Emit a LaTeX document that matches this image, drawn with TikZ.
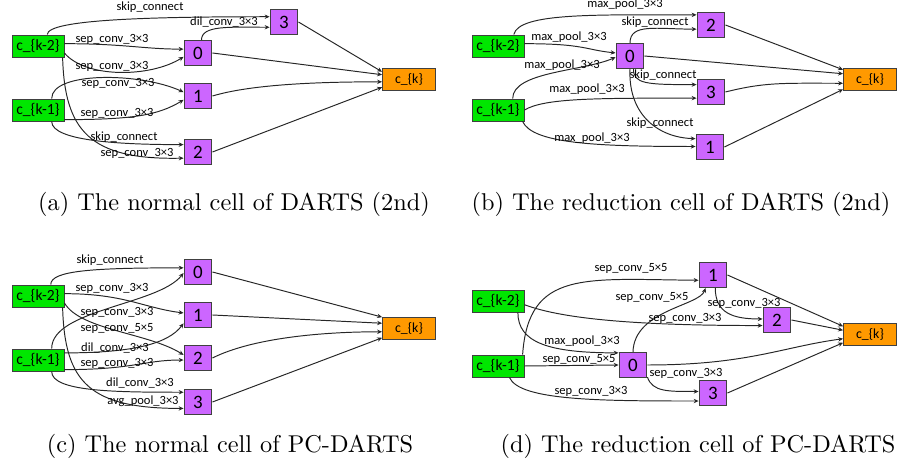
\documentclass[tikz,border=0pt]{standalone}
\usepackage{fontspec}
\newfontfamily\pptfont{Carlito}
\usetikzlibrary{arrows.meta}

\begin{document}
\begin{tikzpicture}[x=0.4115pt,y=-0.4115pt,
	every node/.style={font=\pptfont},
	inbox/.style={draw=cborder,line width=0.4pt,fill=cinput,minimum width=21.4pt,minimum height=9.05pt,inner sep=0pt,font=\pptfont\fontsize{6.4}{7}\selectfont},
	opbox/.style={draw=cborder,line width=0.4pt,fill=cop,minimum width=11.5pt,minimum height=10.3pt,inner sep=0pt,font=\pptfont\fontsize{7.8}{8}\selectfont},
	outbox/.style={draw=cborder,line width=0.4pt,fill=coutput,minimum width=21.8pt,minimum height=9.05pt,inner sep=0pt,font=\pptfont\fontsize{5.7}{6}\selectfont},
	lbl/.style={inner sep=0pt,font=\pptfont\fontsize{5.15}{6}\selectfont},
	arr/.style={draw=black!85,line width=0.4pt,-{Stealth[length=2pt,width=1.8pt]}},
	subcap/.style={inner sep=0pt,font=\rmfamily\fontsize{10}{12}\selectfont}]
\definecolor{cinput}{RGB}{0,230,0}      %green
\definecolor{cop}{RGB}{204,102,255}     %purple
\definecolor{coutput}{RGB}{255,153,0}   %orange
\definecolor{cborder}{RGB}{64,64,64}    %dark gray
\useasboundingbox (0,0) rectangle (906,467);

% (a) normal cell, DARTS (2nd)
\node[inbox] (a-km2) at (38,46) {c\_\{k-2\}};
\node[inbox] (a-km1) at (38,110) {c\_\{k-1\}};
\node[opbox] (a-0) at (198,53) {0};
\node[opbox] (a-1) at (198,96) {1};
\node[opbox] (a-2) at (198,152) {2};
\node[opbox] (a-3) at (284,22) {3};
\node[outbox] (a-k) at (409,79) {c\_\{k\}};
\draw[arr] (a-km2.51) .. controls +(0,-15) and +(-120,0) .. (a-3.160) node[lbl] at (150,7) {skip\_connect};
\draw[arr] (a-0.75) .. controls +(0,-15) and +(-40,0) .. (a-3.200) node[lbl] at (224,22) {dil\_conv\_3×3};
\draw[arr] (a-km2.5) .. controls +(60,0) and +(-40,0) .. (a-0.165) node[lbl] at (112,39) {sep\_conv\_3×3};
\draw[arr] (a-km2.345) .. controls +(21,25) and +(-34,21) .. (a-0.195) node[lbl] at (112,66) {sep\_conv\_3×3};
\draw[arr] (a-km1.40) .. controls +(0,-27) and +(-44,-20) .. (a-1.165) node[lbl] at (118,83) {sep\_conv\_3×3};
\draw[arr] (a-km1.340) .. controls +(70,0) and +(-25,15) .. (a-1.195) node[lbl] at (117,113) {sep\_conv\_3×3};
\draw[arr] (a-km1.320) .. controls +(0,20) and +(-60,0) .. (a-2.153) node[lbl] at (124,137) {skip\_connect};
\draw[arr] (a-km2.335) .. controls +(2,73) and +(-94,2) .. (a-2.203) node[lbl] at (137,153) {sep\_conv\_3×3};
\draw[arr] (a-3.east) -- (a-k.165);
\draw[arr] (a-0.east) -- (a-k.171);
\draw[arr] (a-1.east) .. controls +(40,-12) and +(-60,0) .. (a-k.186);
\draw[arr] (a-2.east) -- (a-k.197);
\node[subcap] (cap-a) at (234,204) {(a) The normal cell of DARTS (2nd)};

% (b) reduction cell, DARTS (2nd)
\node[inbox] (b-km2) at (498,46) {c\_\{k-2\}};
\node[inbox] (b-km1) at (498,110) {c\_\{k-1\}};
\node[opbox] (b-0) at (630,56) {0};
\node[opbox] (b-2) at (711,25) {2};
\node[opbox] (b-3) at (711,92) {3};
\node[opbox] (b-1) at (710,147) {1};
\node[outbox] (b-k) at (870,79) {c\_\{k\}};
\draw[arr] (b-km2.36) .. controls +(5,-22) and +(-100,0) .. (b-2.145) node[lbl] at (625,4) {max\_pool\_3×3};
\draw[arr] (b-0.north) .. controls +(0,-20) and +(-40,0) .. (b-2.196) node[lbl] at (655,22) {skip\_connect};
\draw[arr] (b-km2.5) .. controls +(60,0) and +(-30,-3) .. (b-0.168) node[lbl] at (569,37) {max\_pool\_3×3};
\draw[arr] (b-km1.38) .. controls +(0,-27) and +(-32,14) .. (b-0.185) node[lbl] at (562,65) {max\_pool\_3×3};
\draw[arr] (b-0.285) .. controls +(0,15) and +(-50,0) .. (b-3.153) node[lbl] at (663,75) {skip\_connect};
\draw[arr] (b-km1.east) .. controls +(20,-12) and +(-100,0) .. (b-3.203) node[lbl] at (587,89) {max\_pool\_3×3};
\draw[arr] (b-0.south) .. controls +(-2,47) and +(-36,-1) .. (b-1.150) node[lbl] at (660,123) {skip\_connect};
\draw[arr] (b-km1.335) .. controls +(10,22) and +(-100,0) .. (b-1.178) node[lbl] at (592,138) {max\_pool\_3×3};
\draw[arr] (b-2.east) -- (b-k.161);
\draw[arr] (b-0.east) -- (b-k.169);
\draw[arr] (b-3.east) .. controls +(40,-10) and +(-60,0) .. (b-k.189);
\draw[arr] (b-1.east) -- (b-k.201);
\node[subcap] (cap-b) at (681,204) {(b) The reduction cell of DARTS (2nd)};

% (c) normal cell, PC-DARTS
\node[inbox] (c-km2) at (38,296) {c\_\{k-2\}};
\node[inbox] (c-km1) at (38,360) {c\_\{k-1\}};
\node[opbox] (c-0) at (198,272) {0};
\node[opbox] (c-1) at (198,315) {1};
\node[opbox] (c-2) at (198,358) {2};
\node[opbox] (c-3) at (198,402) {3};
\node[outbox] (c-k) at (409,328) {c\_\{k\}};
\draw[arr] (c-km2.42) .. controls +(0,-14) and +(-90,0) .. (c-0.164) node[lbl] at (110,260) {skip\_connect};
\draw[arr] (c-km1.40) .. controls +(0,-39) and +(-25,32) .. (c-0.184) node[lbl] at (117,312) {sep\_conv\_3×3};
\draw[arr] (c-km2.5) .. controls +(60,0) and +(-40,-5) .. (c-1.172) node[lbl] at (112,288) {sep\_conv\_3×3};
\draw[arr] (c-km1.15) .. controls +(70,0) and +(-15,20) .. (c-1.210) node[lbl] at (115,348) {dil\_conv\_3×3};
\draw[arr] (c-km2.345) .. controls +(16,27) and +(-35,-22) .. (c-2.168) node[lbl] at (117,328) {sep\_conv\_5×5};
\draw[arr] (c-km1.340) .. controls +(70,0) and +(-40,0) .. (c-2.188) node[lbl] at (117,363) {sep\_conv\_3×3};
\draw[arr] (c-km1.320) .. controls +(0,20) and +(-70,0) .. (c-3.146) node[lbl] at (140,383) {dil\_conv\_3×3};
\draw[arr] (c-km2.335) .. controls +(2,75) and +(-94,0) .. (c-3.204) node[lbl] at (143,401) {avg\_pool\_3×3};
\draw[arr] (c-0.east) -- (c-k.158);
\draw[arr] (c-1.east) -- (c-k.170);
\draw[arr] (c-2.east) .. controls +(40,-20) and +(-60,0) .. (c-k.188);
\draw[arr] (c-3.east) -- (c-k.200);
\node[subcap] (cap-c) at (230,446) {(c) The normal cell of PC-DARTS};

% (d) reduction cell, PC-DARTS
\node[inbox] (d-km2) at (498,301) {c\_\{k-2\}};
\node[inbox] (d-km1) at (498,366) {c\_\{k-1\}};
\node[opbox] (d-0) at (633,365) {0};
\node[opbox] (d-1) at (713,275) {1};
\node[opbox] (d-2) at (777,320) {2};
\node[opbox] (d-3) at (713,393) {3};
\node[outbox] (d-k) at (870,334) {c\_\{k\}};
\draw[arr] (d-km1.25) .. controls +(6,-85) and +(-114,-1) .. (d-1.200) node[lbl] at (631,268) {sep\_conv\_5×5};
\draw[arr] (d-0.north) .. controls +(1,-42) and +(-6,18) .. (d-1.240) node[lbl] at (652,297) {sep\_conv\_5×5};
\draw[arr] (d-km2.352) .. controls +(40,15) and +(-120,0) .. (d-2.201) node[lbl] at (685,318) {sep\_conv\_3×3};
\draw[arr] (d-1.280) .. controls +(0,25) and +(-30,0) .. (d-2.176) node[lbl] at (744,303) {sep\_conv\_3×3};
\draw[arr] (d-km2.330) .. controls +(0,30) and +(-70,0) .. (d-0.140) node[lbl] at (582,341) {max\_pool\_3×3};
\draw[arr] (d-km1.east) -- (d-0.west) node[lbl] at (579,359) {sep\_conv\_5×5};
\draw[arr] (d-0.320) .. controls +(5,15) and +(-30,0) .. (d-3.174) node[lbl] at (686,373) {sep\_conv\_3×3};
\draw[arr] (d-km1.315) .. controls +(10,23) and +(-100,0) .. (d-3.209) node[lbl] at (591,391) {sep\_conv\_3×3};
\draw[arr] (d-1.east) -- (d-k.164);
\draw[arr] (d-2.east) -- (d-k.172);
\draw[arr] (d-0.east) .. controls +(100,0) and +(-60,8) .. (d-k.190);
\draw[arr] (d-3.east) -- (d-k.198);
\node[subcap] (cap-d) at (698,446) {(d) The reduction cell of PC-DARTS};
\end{tikzpicture}
\end{document}
